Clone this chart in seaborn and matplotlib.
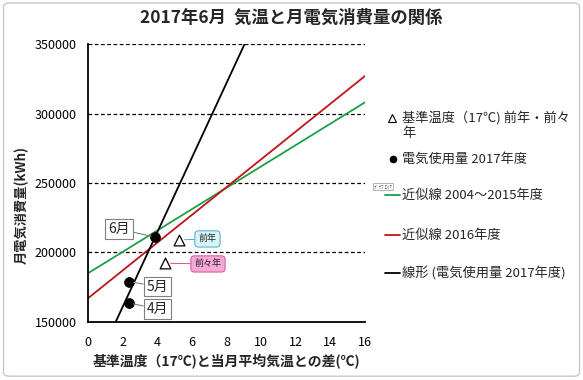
import numpy as np
import pandas as pd
import seaborn as sns
import matplotlib.pyplot as plt
from matplotlib.lines import Line2D
from matplotlib.patches import FancyBboxPatch

# 2017 monthly usage (x = temp difference, y = kWh)
months = ["4月", "5月", "6月"]
usage_x = [2.39, 2.39, 3.87]
usage_y = [163500, 179000, 211000]

# reference-temperature points for previous years
ref_labels = ["前年", "前々年"]
ref_x = [5.26, 4.45]
ref_y = [209000, 192200]

# trend lines from earlier years (intercept, slope)
trend_names = ["近似線 2004～2015年度", "近似線 2016年度"]
trend_intercept = [185000, 167000]
trend_slope = [7690, 10000]
trend_colors = ["#1e9e4a", "#c0141a"]

sns.set_theme(style="white")
plt.rcParams["font.family"] = ["Noto Sans CJK JP", "DejaVu Sans"]

fig = plt.figure(figsize=(5.83, 3.8), dpi=100)
ax = fig.add_axes([0.151, 0.153, 0.475, 0.731])
ax.set_xlim(0, 16)
ax.set_ylim(150000, 350000)

# gridlines
for yv in [200000, 250000, 300000, 350000]:
    ax.axhline(yv, color="black", lw=0.9, ls=(0, (3, 2)), zorder=1)

xs = np.array([0, 16])
for b, m, c in zip(trend_intercept, trend_slope, trend_colors):
    ax.plot(xs, b + m * xs, color=c, lw=1.3, zorder=2)

df = pd.DataFrame({"x": usage_x, "y": usage_y})
sns.regplot(data=df, x="x", y="y", ax=ax, ci=None, scatter=False, truncate=False,
            line_kws={"color": "black", "lw": 1.3, "zorder": 3})
sns.scatterplot(data=df, x="x", y="y", ax=ax, color="black", s=50,
                edgecolor="black", zorder=4)
ax.scatter(ref_x, ref_y, marker="^", s=60, facecolor="white",
           edgecolor="black", linewidths=0.9, zorder=4)

ax.set_xlim(0, 16)
ax.set_ylim(150000, 350000)

# month labels
month_text = [(3.99, 159400), (3.99, 175500), (1.79, 216900)]
for lab, px, py, (tx, ty) in zip(months, usage_x, usage_y, month_text):
    ax.annotate(lab, xy=(px, py), xytext=(tx, ty), fontsize=10,
                ha="center", va="center", zorder=5,
                bbox=dict(boxstyle="square,pad=0.2", fc="white", ec="#808080", lw=0.8),
                arrowprops=dict(arrowstyle="-", color="#808080", lw=0.8,
                                shrinkA=0, shrinkB=3))

ref_text = [(6.9, 209700), (6.93, 191700)]
ref_colors = ["#d7f4f8", "#f6a8d8"]
ref_edges = ["#4aa7c9", "#d0509a"]
for lab, px, py, (tx, ty), fc, ec in zip(ref_labels, ref_x, ref_y, ref_text,
                                         ref_colors, ref_edges):
    ax.annotate(lab, xy=(px, py), xytext=(tx, ty), fontsize=6.5,
                ha="center", va="center", zorder=5,
                bbox=dict(boxstyle="round,pad=0.4", fc=fc, ec=ec, lw=0.7),
                arrowprops=dict(arrowstyle="-", color=ec, lw=0.7,
                                shrinkA=0, shrinkB=4))

ax.set_xticks(range(0, 17, 2))
ax.set_yticks(range(150000, 350001, 50000))
ax.tick_params(axis="both", labelsize=9, length=0, colors="black")
ax.tick_params(axis="x", pad=10)
ax.tick_params(axis="y", pad=8)
for s in ["top", "right"]:
    ax.spines[s].set_visible(False)
for s in ["left", "bottom"]:
    ax.spines[s].set_color("black")
    ax.spines[s].set_linewidth(1.3)

ax.set_xlabel("基準温度（17℃)と当月平均気温との差(℃)", fontsize=10,
              fontweight="bold")
ax.xaxis.set_label_coords(0.5, -0.115)
ax.set_ylabel("月電気消費量(kWh)", fontsize=9.5, fontweight="bold")
ax.yaxis.set_label_coords(-0.213, 0.42)

fig.text(0.5, 0.953, "2017年6月  気温と月電気消費量の関係", ha="center", va="center",
         fontsize=12.5, fontweight="bold")

# legend drawn by hand to the right of the plot
W, H = 583, 380
def fx(p):
    return p / W
def fy(p):
    return 1 - p / H

fs = 9.5
fig.add_artist(Line2D([fx(392)], [fy(118)], marker="^", ms=5.5, mfc="white",
                      mec="black", mew=0.8, ls="none"))
fig.text(fx(402), fy(118), "基準温度（17℃) 前年・前々", fontsize=fs, va="center")
fig.text(fx(402), fy(134), "年", fontsize=fs, va="center")
fig.add_artist(Line2D([fx(393)], [fy(159)], marker="o", ms=4.5, color="black", ls="none"))
fig.text(fx(402), fy(159), "電気使用量 2017年度", fontsize=fs, va="center")
legend_lines = [(195, trend_colors[0], trend_names[0]),
                (235, trend_colors[1], trend_names[1]),
                (273, "black", "線形 (電気使用量 2017年度)")]
for yy, c, t in legend_lines:
    fig.add_artist(Line2D([fx(385), fx(400)], [fy(yy), fy(yy)], color=c, lw=1.3))
    fig.text(fx(402), fy(yy), t, fontsize=fs, va="center")

fig.text(fx(374), fy(186.5), "ｸﾞﾗﾌ ｴﾘｱ", fontsize=3.5, va="center", color="#555555",
         bbox=dict(boxstyle="square,pad=0.25", fc="white", ec="#999999", lw=0.5))

# chart-area border
fig.add_artist(FancyBboxPatch((0.006, 0.01), 0.988, 0.982,
                              boxstyle="round,pad=0,rounding_size=0.01",
                              transform=fig.transFigure, fc="none",
                              ec="#c8c8c8", lw=1.0))

fig.savefig("out.png", dpi=100)
